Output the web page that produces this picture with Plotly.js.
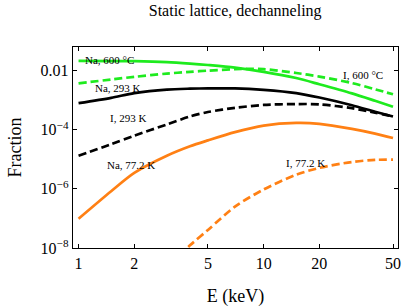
<!DOCTYPE html>
<html>
<head>
<meta charset="utf-8">
<script src="https://cdn.plot.ly/plotly-3.0.1.min.js"></script>
<style>html,body{margin:0;padding:0;background:#fff;}#chart{width:402px;height:307px;}</style>
</head>
<body>
<div id="chart"></div>
<script>
// Energy grid (keV)
const energy = [1, 1.5, 2, 3, 4, 5, 7, 10, 15, 20, 30, 40, 50];
// log10(Fraction) values
const naHot  = [-1.67, -1.675, -1.68, -1.71, -1.76, -1.81, -1.90, -2.04, -2.25, -2.46, -2.77, -3.02, -3.22];
const iHot   = [-2.43, -2.30, -2.21, -2.10, -2.04, -2.00, -1.95, -1.95, -2.08, -2.20, -2.42, -2.63, -2.80];
const naRoom = [-3.10, -2.92, -2.76, -2.64, -2.61, -2.60, -2.60, -2.65, -2.76, -2.91, -3.17, -3.39, -3.55];
const iRoom  = [-4.88, -4.49, -4.20, -3.82, -3.55, -3.40, -3.26, -3.16, -3.13, -3.14, -3.27, -3.42, -3.55];
const naCold = [-7.01, -6.08, -5.46, -4.88, -4.56, -4.36, -4.08, -3.86, -3.77, -3.80, -3.97, -4.13, -4.28];
const energyICold = [3.5, 4, 5, 7, 10, 15, 20, 30, 40, 50];
const iCold  = [-8.25, -7.91, -7.39, -6.60, -6.02, -5.52, -5.29, -5.09, -5.02, -5.01];

const seriesNames = ["Na, 600 °C", "I, 600 °C", "Na, 293 K", "I, 293 K", "Na, 77.2 K", "I, 77.2 K"];
const yTickVals = [1e-8, 1e-6, 1e-4, 1e-2];
const yTickText = ["10<sup>−8</sup>", "10<sup>−6</sup>", "10<sup>−4</sup>", "0.01"];
const xTickVals = [1, 2, 5, 10, 20, 50];
const xTickText = ["1", "2", "5", "10", "20", "50"];

const toFrac = a => a.map(v => Math.pow(10, v));
const green = "rgb(30,235,30)", orange = "rgb(255,128,20)", black = "#000";
const dash = "8px,4px";

function tr(x, y, color, dashed) {
  return {x: x, y: toFrac(y), type: "scatter", mode: "lines",
    line: {color: color, width: 2.7, shape: "spline", smoothing: 0.8, dash: dashed ? dash : "solid"},
    hoverinfo: "none", showlegend: false};
}

const data = [
  tr(energy, naHot, green, false),
  tr(energy, iHot, green, true),
  tr(energy, naRoom, black, false),
  tr(energy, iRoom, black, true),
  tr(energy, naCold, orange, false),
  tr(energyICold, iCold, orange, true)
];

// label anchor points (E in keV, Fraction)
const labelPos = [[1.466, 0.0234], [34.6, 0.00724], [1.64, 0.00263], [1.858, 0.000257], [1.93, 6.6e-6], [16.8, 7.6e-6]];
const annotations = labelPos.map((p, i) => ({
  x: Math.log10(p[0]), y: Math.log10(p[1]), xref: "x", yref: "y",
  text: seriesNames[i], showarrow: false,
  font: {family: "Liberation Serif", size: 11, color: "#000"}
}));

const axisCommon = {
  type: "log", showgrid: false, zeroline: false, showline: true, linecolor: "#000", linewidth: 1.3,
  mirror: "allticks", ticks: "inside", ticklen: 4, tickwidth: 1, tickcolor: "#000",
  tickfont: {family: "Liberation Serif", size: 16, color: "#000"}
};

const layout = {
  width: 402, height: 307,
  margin: {l: 73, r: 4, t: 47, b: 59},
  paper_bgcolor: "#fff", plot_bgcolor: "#fff",
  title: {text: "Static lattice, dechanneling", x: 0.585, xanchor: "center", y: 0.965, yanchor: "middle",
    font: {family: "Liberation Serif", size: 16, color: "#000"}},
  xaxis: Object.assign({}, axisCommon, {
    range: [-0.030, 1.726], tickvals: xTickVals, ticktext: xTickText,
    title: {text: "E (keV)", standoff: 20, font: {family: "Liberation Serif", size: 18, color: "#000"}}
  }),
  yaxis: Object.assign({}, axisCommon, {
    range: [-8, -1.2], tickvals: yTickVals, ticktext: yTickText,
    title: {text: "Fraction", standoff: 14, font: {family: "Liberation Serif", size: 18, color: "#000"}}
  }),
  annotations: annotations
};

Plotly.newPlot("chart", data, layout, {staticPlot: true, displayModeBar: false});
</script>
</body>
</html>
